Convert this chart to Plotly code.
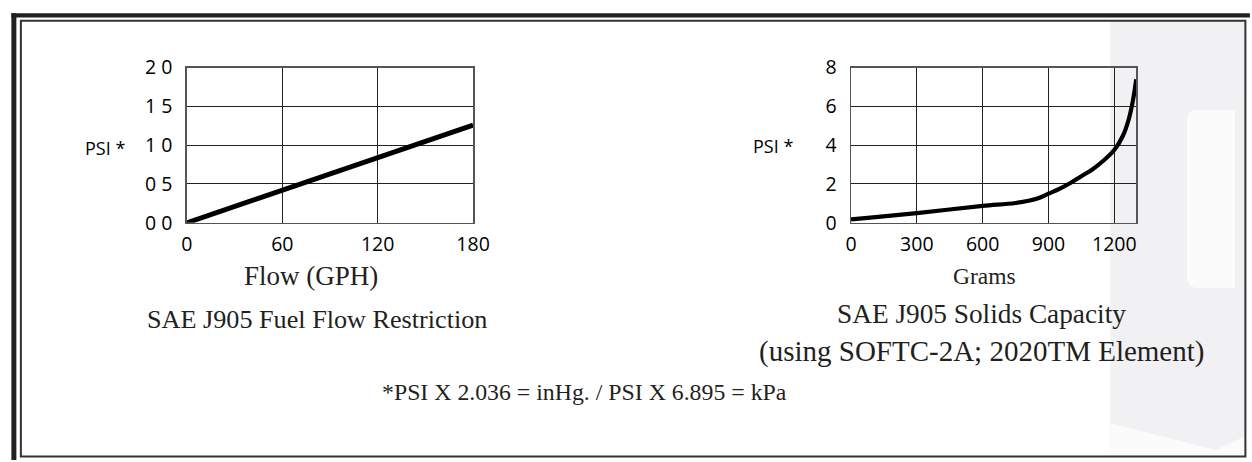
import plotly.graph_objects as go

W, H = 1252, 462

# ---- data ----
flow_gph = [0, 60, 120, 180]
flow_psi = [0.0, 0.42, 0.84, 1.26]
flow_xticks = [0, 60, 120, 180]
flow_yticks = [0, 0.5, 1.0, 1.5, 2.0]
flow_yticklabels = ["0 0", "0 5", "1 0", "1 5", "2 0"]

grams = [0, 100, 300, 600, 750, 850, 900, 950, 1000, 1050, 1100, 1150, 1200, 1240, 1265, 1285, 1300]
solids_psi = [0.17, 0.28, 0.5, 0.87, 1.02, 1.25, 1.5, 1.75, 2.05, 2.4, 2.75, 3.2, 3.75, 4.5, 5.3, 6.3, 7.4]
grams_xticks = [0, 300, 600, 900, 1200]
grams_yticks = [0, 2, 4, 6, 8]

header_texts = ["Performance Data",
                "(Test results are from controlled laboratory testing - field results may vary)"]

# the photographed page maps figure pixels slightly scaled/offset; place things by target pixels
SX, OX, SY, OY = 0.9844, 4.6, 0.953, 10.7


def fx(r):  # target pixel x -> figure pixel x
    return (r - OX) / SX


def fy(r):  # target pixel y -> figure pixel y
    return (r - OY) / SY


def px(r):
    return fx(r) / W


def py(r):
    return 1 - fy(r) / H


SERIF = "Liberation Serif"
SANS = "Open Sans"
TXT = "#231f20"

fig = go.Figure()
fig.add_trace(go.Scatter(x=flow_gph, y=flow_psi, mode="lines",
                         line=dict(color="black", width=5), xaxis="x", yaxis="y",
                         showlegend=False, hoverinfo="skip"))
fig.add_trace(go.Scatter(x=grams, y=solids_psi, mode="lines", line_shape="spline",
                         line=dict(color="black", width=4.2), xaxis="x2", yaxis="y2",
                         showlegend=False, hoverinfo="skip"))
# header remnants cut off at the top of the page (pixel-like coordinates)
fig.add_trace(go.Scatter(x=[fx(480)], y=[fy(-7)], mode="text", text=[header_texts[0]],
                         textposition="middle left", cliponaxis=False,
                         textfont=dict(family=SERIF, size=62, color="#cfcfcf", style="italic"),
                         xaxis="x3", yaxis="y3", showlegend=False, hoverinfo="skip"))
fig.add_trace(go.Scatter(x=[fx(487)], y=[fy(0)], mode="text", text=[header_texts[1]],
                         textposition="middle right", cliponaxis=False,
                         textfont=dict(family=SERIF, size=25.5, color=TXT),
                         xaxis="x3", yaxis="y3", showlegend=False, hoverinfo="skip"))

axis_common = dict(showline=True, mirror=True, linecolor="#555", linewidth=1.5,
                   showgrid=True, gridcolor="#222", gridwidth=1, zeroline=False,
                   ticks="", tickfont=dict(family=SANS, size=19.5, color="black"),
                   fixedrange=True)
hidden = dict(visible=False, fixedrange=True, showgrid=False, zeroline=False)

fig.update_layout(
    width=W, height=H,
    margin=dict(l=0, r=0, t=0, b=0),
    paper_bgcolor="white", plot_bgcolor="rgba(0,0,0,0)",
    xaxis=dict(domain=[px(186), px(473)], range=[0, 180], tickvals=flow_xticks,
               anchor="y", ticklabelstandoff=3, **axis_common),
    yaxis=dict(domain=[py(222), py(65)], range=[0, 2.0], tickvals=flow_yticks,
               ticktext=flow_yticklabels, anchor="x", ticklabelstandoff=9, **axis_common),
    xaxis2=dict(domain=[px(852), px(1138)], range=[0, 1300], tickvals=grams_xticks,
                anchor="y2", ticklabelstandoff=3, **axis_common),
    yaxis2=dict(domain=[py(222), py(65)], range=[0, 8], tickvals=grams_yticks,
                anchor="x2", ticklabelstandoff=9, **axis_common),
    xaxis3=dict(domain=[0, 1], range=[0, W], anchor="y3", **hidden),
    yaxis3=dict(domain=[0, 1], range=[H, 0], anchor="x3", **hidden),
)

shapes = []
# watermark background on right
shapes.append(dict(type="rect", xref="paper", yref="paper", x0=px(1112), x1=px(1247),
                   y0=py(458), y1=py(18), fillcolor="#f1f1f3", line=dict(width=0), layer="below"))
shapes.append(dict(type="path", xref="paper", yref="paper",
                   path=f"M {px(1189)} {py(118)} Q {px(1189)} {py(108)} {px(1199)} {py(108)} "
                        f"L {px(1237)} {py(108)} L {px(1237)} {py(288)} L {px(1199)} {py(288)} "
                        f"Q {px(1189)} {py(288)} {px(1189)} {py(278)} Z",
                   fillcolor="#fbfbfc", line=dict(width=0), layer="below"))
shapes.append(dict(type="path", xref="paper", yref="paper",
                   path=f"M {px(1112)} {py(425)} L {px(1218)} {py(452)} L {px(1247)} {py(438)} "
                        f"L {px(1247)} {py(458)} L {px(1112)} {py(458)} Z",
                   fillcolor="#fbfbfc", line=dict(width=0), layer="below"))
# outer thick frame (top and left)
shapes.append(dict(type="line", xref="paper", yref="paper", x0=px(10), x1=px(1252),
                   y0=py(12), y1=py(12), line=dict(color="#231f20", width=4.2)))
shapes.append(dict(type="line", xref="paper", yref="paper", x0=px(12.5), x1=px(12.5),
                   y0=py(10), y1=py(462), line=dict(color="#231f20", width=5)))
# inner frame
shapes.append(dict(type="rect", xref="paper", yref="paper", x0=px(19.5), x1=px(1247.5),
                   y0=py(458.5), y1=py(17.5), line=dict(color="#333", width=2)))
fig.update_layout(shapes=shapes)

ann = []


def text(x, y, s, size, family=SERIF, xanchor="center", color=TXT):
    ann.append(dict(x=px(x), y=py(y), xref="paper", yref="paper", text=s, showarrow=False,
                    xanchor=xanchor, yanchor="middle",
                    font=dict(family=family, size=size, color=color)))


text(82, 146, "PSI *", 18, family=SANS, xanchor="left", color="black")
text(752, 144, "PSI *", 18, family=SANS, xanchor="left", color="black")

text(310, 276, "Flow (GPH)", 27)
text(316, 320, "SAE J905 Fuel Flow Restriction", 26.2)
text(986, 276, "Grams", 23.5)
text(983, 314, "SAE J905 Solids Capacity", 27.3)
text(983, 352, "(using SOFTC-2A; 2020TM Element)", 29)
text(585, 393, "*PSI X 2.036 = inHg. / PSI X 6.895 = kPa", 23.8)

fig.update_layout(annotations=ann)

fig.write_html(
    "out.html",
    config={"displayModeBar": False, "staticPlot": True},
    post_script=("var d=document.getElementById('{plot_id}');"
                 "d.style.position='fixed';d.style.top='0';d.style.left='0';"
                 "document.body.style.margin='0';document.body.style.padding='0';"
                 "document.documentElement.style.overflow='hidden';"
                 "document.body.style.overflow='hidden';"),
)
